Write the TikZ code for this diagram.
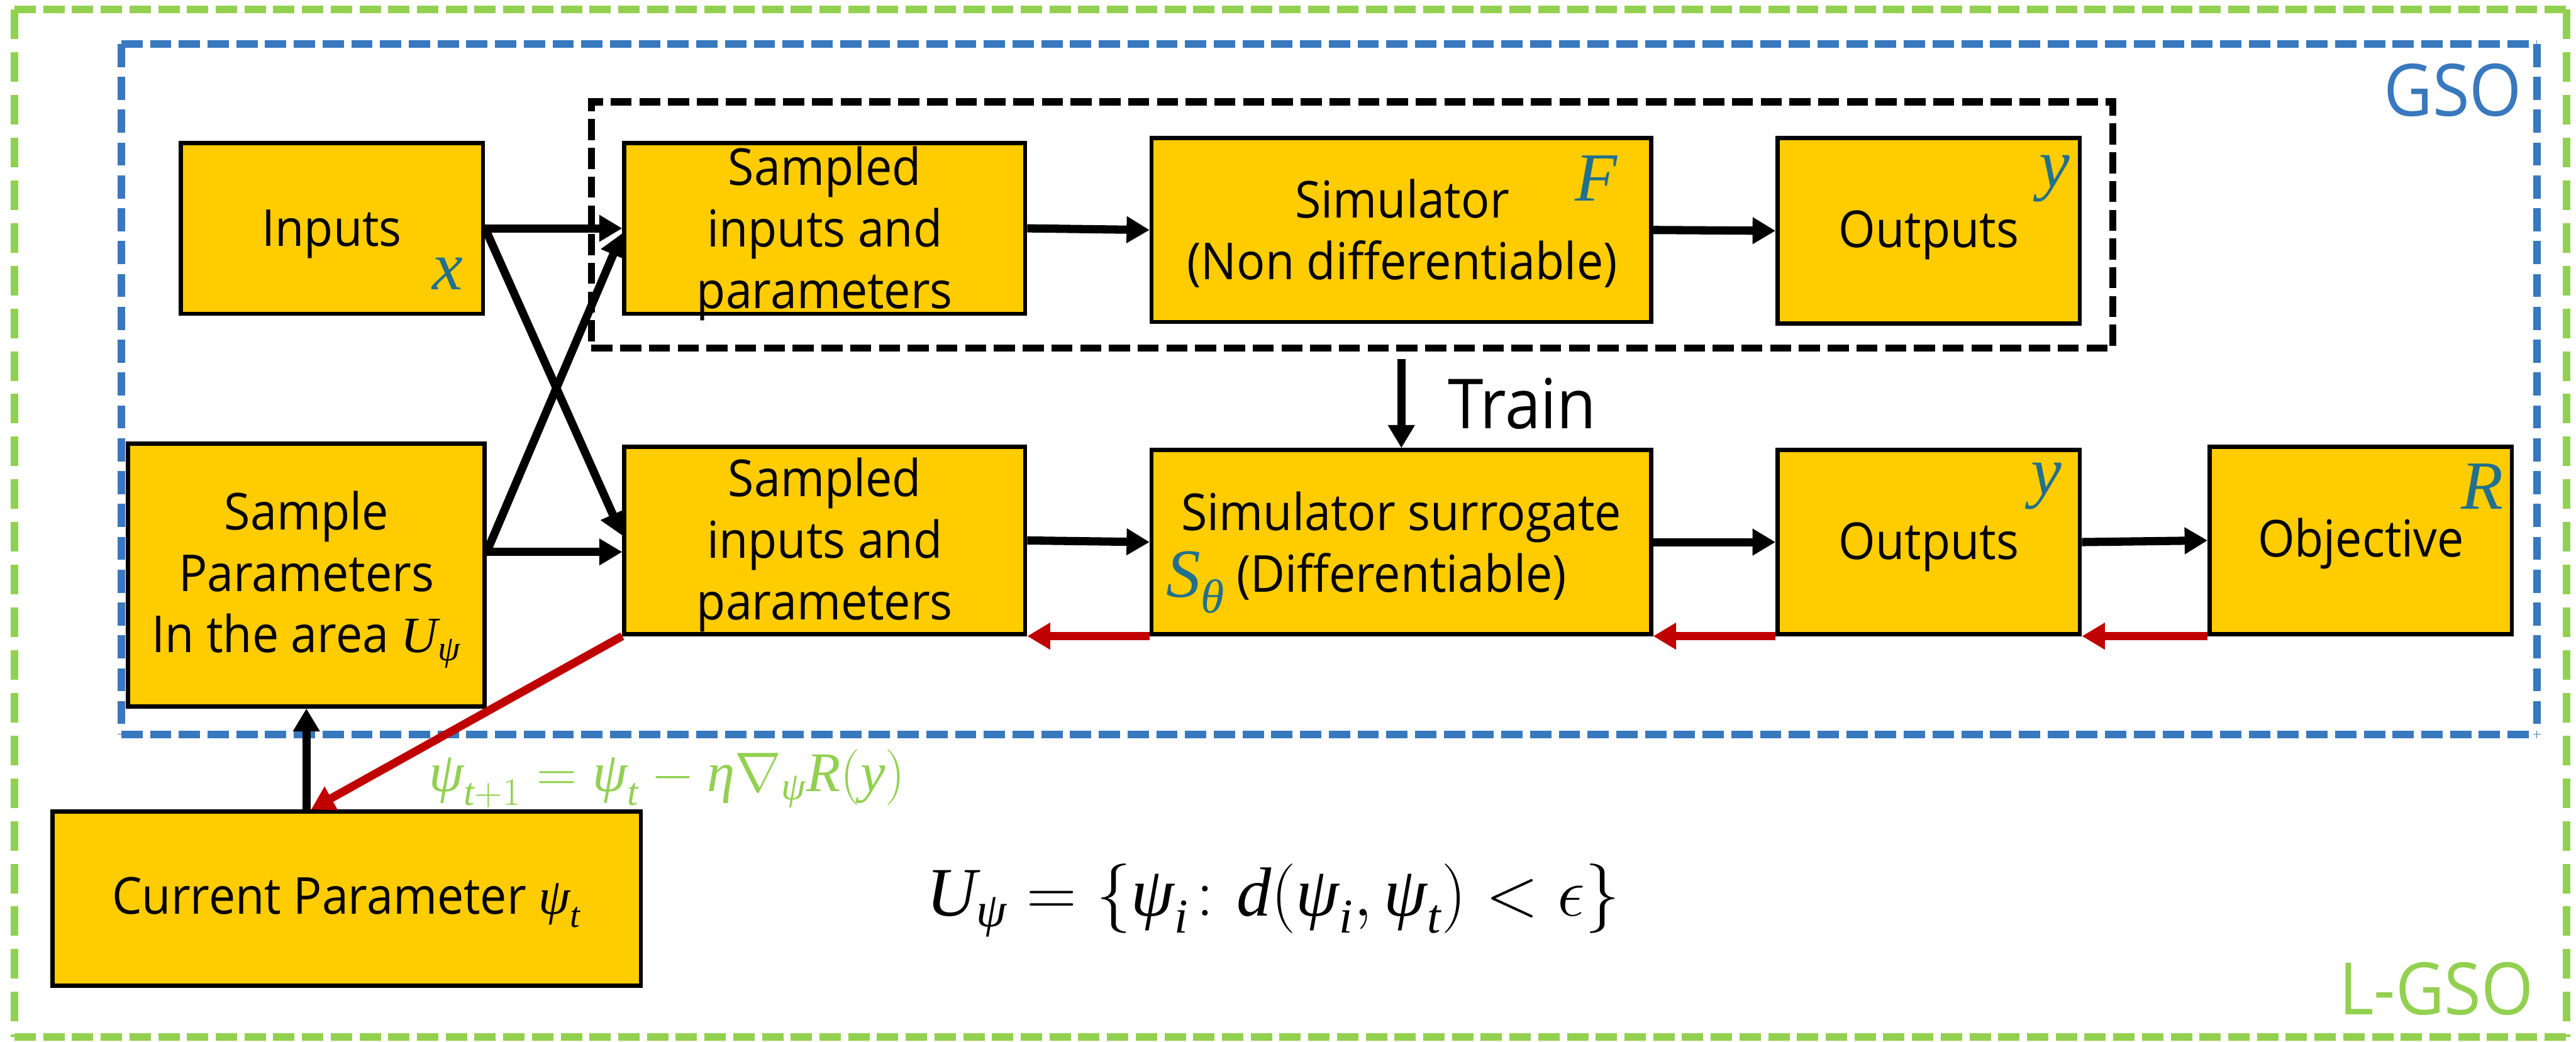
\documentclass[tikz,border=0pt]{standalone}
\usepackage{fix-cm}
\usepackage{amsmath}
\usepackage{fontspec}
\setmainfont[FakeStretch=0.93]{Open Sans}
\newfontfamily\letterfont{Liberation Serif}
\newcommand{\mlet}[1]{\text{\letterfont\itshape #1}}
\usetikzlibrary{arrows.meta,calc}
\definecolor{boxyellow}{HTML}{FFCC00}
\definecolor{gsoblue}{RGB}{56,120,190}
\definecolor{lgreen}{HTML}{92D050}
\definecolor{darkred}{HTML}{C00000}
\definecolor{lettercol}{RGB}{33,112,142}
\begin{document}
\begin{tikzpicture}[x=1pt,y=-1pt,
  box/.style={draw=black,line width=2.5pt,fill=boxyellow,inner sep=0pt},
  txt/.style={inner sep=0pt,align=center,font=\fontsize{31}{37.5}\selectfont},
  lbl/.style={inner sep=0pt,text=lettercol,font=\fontsize{42}{46}\letterfont\itshape},
  arr/.style={line width=5pt,-{Triangle[length=14pt,width=15.5pt]}},
  redarr/.style={draw=darkred,line width=5pt,-{Triangle[length=14pt,width=15.5pt]}},
  framebox/.style={inner sep=0pt,fill=none},
  gH/.style={draw=lgreen,line width=4.4pt,dash pattern=on 13pt off 4.5pt},
  gV/.style={draw=lgreen,line width=4.4pt,dash pattern=on 18pt off 8pt},
  bH/.style={draw=gsoblue,line width=4.4pt,dash pattern=on 13pt off 4.5pt},
  bV/.style={draw=gsoblue,line width=4.4pt,dash pattern=on 14pt off 6pt},
  kH/.style={draw=black,line width=4.3pt,dash pattern=on 12.8pt off 4.7pt}]
\useasboundingbox (0,0) rectangle (1568,634);

% frames
\node[framebox,minimum width=1553pt,minimum height=625pt] (lgso) at (785.5,318.5) {};
\draw[gH] (lgso.north west) -- (lgso.north east);
\draw[gH] (lgso.south west) -- (lgso.south east);
\draw[gV] (lgso.north west) -- (lgso.south west);
\draw[gV] (lgso.north east) -- (lgso.south east);
\node[framebox,minimum width=1470pt,minimum height=420pt] (gso) at (809,237) {};
\draw[bH] (gso.north west) -- (gso.north east);
\draw[bH] (gso.south west) -- (gso.south east);
\draw[bV] (gso.north west) -- (gso.south west);
\draw[bV] (gso.north east) -- (gso.south east);
\node[framebox,kH,minimum width=926pt,minimum height=150pt] (simbox) at (823,137) {};

% boxes
\node[box,minimum width=184pt,minimum height=104pt] (inputs) at (202,139) {};
\node[box,minimum width=244pt,minimum height=104pt] (sampledT) at (502,139) {};
\node[box,minimum width=304pt,minimum height=112pt] (sim) at (853,140) {};
\node[box,minimum width=184pt,minimum height=113pt] (outT) at (1174,140.5) {};
\node[box,minimum width=217pt,minimum height=160pt] (sparam) at (186.5,350) {};
\node[box,minimum width=244pt,minimum height=114pt] (sampledB) at (502,329) {};
\node[box,minimum width=304pt,minimum height=112pt] (surr) at (853,330) {};
\node[box,minimum width=184pt,minimum height=112pt] (outB) at (1174,330) {};
\node[box,minimum width=184pt,minimum height=114pt] (obj) at (1437,329) {};
\node[box,minimum width=358pt,minimum height=106pt] (current) at (211,547) {};

% texts
\node[txt] (inputsT) at (202,142.6) {Inputs};
\node[txt] (sampledTT) at (502,142.3) {Sampled\\inputs and\\parameters};
\node[txt] (simT) at (853.5,142.2) {Simulator\\(Non differentiable)};
\node[txt] (outTT) at (1174,143) {Outputs};
\node[txt] (sparamT) at (186.5,352.7) {Sample\\Parameters\\In the area $\mlet{U}_{\mlet{ψ}}$};
\node[txt] (sampledBT) at (502,331.7) {Sampled\\inputs and\\parameters};
\node[txt] (surrT) at (853,332.2) {Simulator surrogate\\(Differentiable)};
\node[txt] (outBT) at (1174,333) {Outputs};
\node[txt] (objT) at (1437,330.9) {Objective};
\node[txt] (currentT) at (211,549.3) {Current Parameter $\mlet{ψ}_{\mlet{t}}$};

% coloured letters
\node[lbl] (xl) at (272.5,166.6) {x};
\node[lbl] (Fl) at (971.5,108.6) {F};
\node[lbl] (yT) at (1250.7,108.9) {y};
\node[lbl] (yB) at (1245.6,296) {y};
\node[lbl] (Rl) at (1511,296) {R};
\node[lbl] (Sl) at (727.5,354.5) {S\raisebox{-0.22em}{\fontsize{29}{30}\selectfont θ}};

% labels
\node[inner sep=0pt,font=\fontsize{42}{48}\selectfont] (train) at (926.5,245.5) {Train};
\node[inner sep=0pt,text=gsoblue,font=\fontsize{44}{48}\selectfont] (gsoT) at (1493,55) {GSO};
\node[inner sep=0pt,text=lgreen,font=\fontsize{44}{48}\selectfont] (lgsoT) at (1483,602) {L-GSO};
\node[inner sep=0pt,text=lgreen,font=\fontsize{34}{38}\selectfont] (update) at (406,474)
  {$\mlet{ψ}_{\mlet{t}+1}=\mlet{ψ}_{\mlet{t}}-\mlet{η}\nabla_{\mlet{ψ}}\mlet{R}(\mlet{y})$};
\node[inner sep=0pt,font=\fontsize{42.3}{48}\selectfont] (area) at (775,548)
  {$\mlet{U}_{\mlet{ψ}}=\{\mlet{ψ}_{\mlet{i}}\colon \mlet{d}(\mlet{ψ}_{\mlet{i}},\mlet{ψ}_{\mlet{t}})<\epsilon\}$};

% connectors
\coordinate (spout) at ([yshift=14pt]sparam.east);
\draw[arr] (inputs.east) -- (sampledT.west);
\draw[arr] (inputs.east) -- ([yshift=3pt]sampledB.west);
\draw[arr] (spout) -- ([yshift=-3pt]sampledT.west);
\draw[arr] (spout) -- (spout -| sampledB.west);
\draw[arr] (sampledT.east) -- (sim.west);
\draw[arr] (sim.east) -- (outT.west);
\draw[arr] (sampledB.east) -- (surr.west);
\draw[arr] (surr.east) -- (outB.west);
\draw[arr] (outB.east) -- (obj.west);
\draw[arr,shorten <=4.5pt] (surr.north |- simbox.south) -- (surr.north);
\draw[arr] (current.north -| sparam.south) -- (sparam.south);

\draw[redarr] (surr.south west) -- (sampledB.south east);
\draw[redarr] (outB.south west) -- (surr.south east);
\draw[redarr] (obj.south west) -- (outB.south east);
\draw[redarr] (sampledB.south west) -- ($(current.north west)!0.44!(current.north east)$);
\end{tikzpicture}
\end{document}
